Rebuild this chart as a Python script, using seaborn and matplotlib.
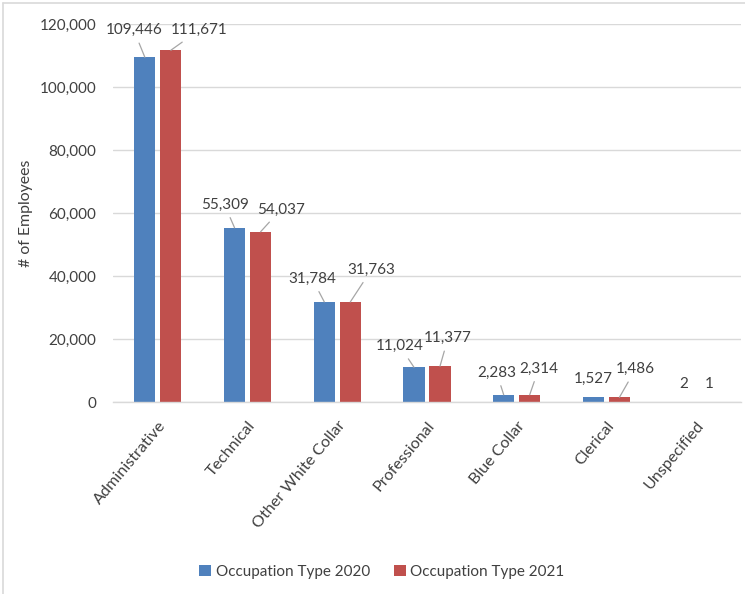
import matplotlib
matplotlib.use("Agg")
import matplotlib.pyplot as plt
from matplotlib.lines import Line2D
from matplotlib.patches import Patch
from matplotlib.ticker import FuncFormatter
import pandas as pd
import seaborn as sns

categories = ["Administrative", "Technical", "Other White Collar", "Professional",
              "Blue Collar", "Clerical", "Unspecified"]
values_2020 = [109446, 55309, 31784, 11024, 2283, 1527, 2]
values_2021 = [111671, 54037, 31763, 11377, 2314, 1486, 1]
series_names = ["Occupation Type 2020", "Occupation Type 2021"]
y_ticks = [0, 20000, 40000, 60000, 80000, 100000, 120000]

# label placement (pixel offsets from each bar top) and whether a leader line is drawn
label_offsets_2020 = [(-11, 27), (-10, 23), (-12, 23), (-14, 21), (-7, 22), (0, 18), (1, 18)]
label_offsets_2021 = [(28, 20), (20, 22), (21, 32), (8, 28), (9, 26), (16, 28), (0, 18)]
leaders_2020 = [True, True, True, True, True, False, False]
leaders_2021 = [True, True, True, True, True, True, False]

BLUE = "#4F81BD"
RED = "#C0504D"
TEXT = "#404040"
FS = 11

sns.set_theme(style="white")
plt.rcParams["font.family"] = ["Lato", "DejaVu Sans"]

df = pd.DataFrame({
    "category": categories * 2,
    "series": [series_names[0]] * len(categories) + [series_names[1]] * len(categories),
    "value": values_2020 + values_2021,
})

fig = plt.figure(figsize=(7.45, 5.94), dpi=100)
ax = fig.add_axes([113 / 745, 1 - 402 / 594, 628 / 745, 378 / 594])

sns.barplot(data=df, x="category", y="value", hue="series", order=categories,
            hue_order=series_names, palette=[BLUE, RED], saturation=1,
            width=0.58, gap=0.19, ax=ax, legend=False, edgecolor="none")

ax.set_xlim(-0.5, len(categories) - 0.5)
ax.set_ylim(0, 120000)
ax.set_yticks(y_ticks)
ax.yaxis.set_major_formatter(FuncFormatter(lambda v, p: f"{int(v):,}"))
ax.grid(axis="y", color="#d9d9d9", linewidth=1.0)
ax.set_axisbelow(True)
for side in ["top", "right", "left"]:
    ax.spines[side].set_visible(False)
ax.spines["bottom"].set_color("#d9d9d9")
ax.spines["bottom"].set_linewidth(1.0)
ax.tick_params(axis="y", length=0, pad=12, labelsize=FS, labelcolor=TEXT)
ax.tick_params(axis="x", length=0, pad=12, labelsize=11.6, labelcolor=TEXT)
plt.setp(ax.get_xticklabels(), rotation=50, ha="right", rotation_mode="anchor")
ax.set_xlabel("")
ax.set_ylabel("# of Employees", fontsize=11.4, color=TEXT, labelpad=5)

# data labels with leader lines
containers = ax.containers
for bars, vals, offs, leads in [(containers[0], values_2020, label_offsets_2020, leaders_2020),
                                (containers[1], values_2021, label_offsets_2021, leaders_2021)]:
    for bar, v, (dx, dy), lead in zip(bars, vals, offs, leads):
        x = bar.get_x() + bar.get_width() / 2
        y = bar.get_height()
        arrow = dict(arrowstyle="-", color="#a6a6a6", lw=0.9, shrinkA=2, shrinkB=0) if lead else None
        ax.annotate(f"{v:,}", xy=(x, y), xytext=(dx, dy), textcoords="offset pixels",
                    ha="center", va="center", fontsize=FS, color=TEXT,
                    arrowprops=arrow, annotation_clip=False)

handles = [Patch(facecolor=BLUE, edgecolor="none"), Patch(facecolor=RED, edgecolor="none")]
fig.legend(handles, series_names, loc="center", bbox_to_anchor=(382 / 745, 1 - 572 / 594),
           ncol=2, frameon=False, fontsize=FS, handlelength=0.75, handleheight=0.75,
           handletextpad=0.3, columnspacing=1.6, labelcolor=TEXT)

# chart area border
fig.add_artist(Line2D([3 / 745, 1], [1 - 3 / 594, 1 - 3 / 594], transform=fig.transFigure,
                      color="#d9d9d9", lw=1.2))
fig.add_artist(Line2D([3 / 745, 3 / 745], [0, 1 - 3 / 594], transform=fig.transFigure,
                      color="#d9d9d9", lw=1.2))

fig.savefig("out.png", dpi=100)
